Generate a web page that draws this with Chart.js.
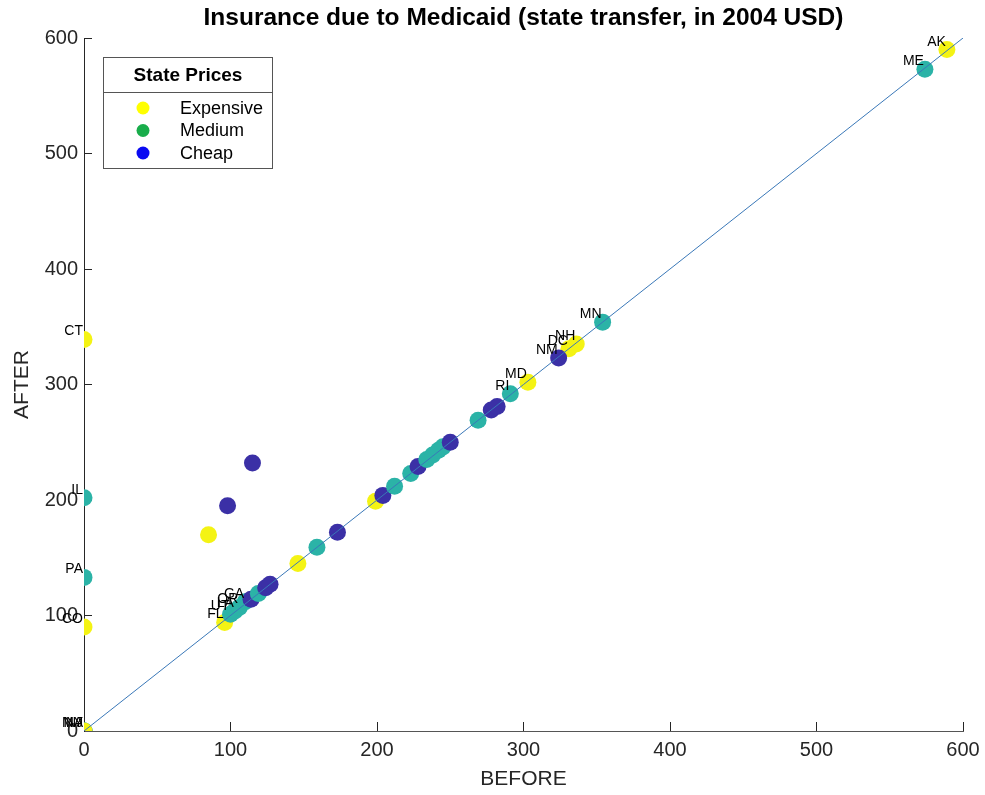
<!DOCTYPE html>
<html>
<head>
<meta charset="utf-8">
<script src="https://cdn.jsdelivr.net/npm/chart.js@4.4.0/dist/chart.umd.min.js"></script>
<style>
  html, body { margin: 0; padding: 0; background: #ffffff; }
  #wrap { width: 985px; height: 795px; }
</style>
</head>
<body>
<div id="wrap"><canvas id="chart" width="985" height="795"></canvas></div>
<script>
// State codes (blank where no label is printed), spending before/after, price tier
const states = ['', 'NJ', 'MA', 'NY', 'CT', 'IL', 'PA', 'CO', '', '', '',
  'FL', 'UT', 'LA', 'OR', 'GA', '', '', '', '', '', '', '', '', '', '', '', '',
  '', '', '', '', '', '', '', '', 'RI', 'MD', 'DC', 'NH', 'NM', 'MN', 'ME', 'AK'];
const before = [0, 0, 0, 0, 0, 0, 0, 0, 85, 98, 115,
  96, 100, 103, 106, 110, 114, 119, 124, 127, 146, 159, 173, 199, 204, 212, 223, 228,
  234, 238, 242, 245, 250, 269, 278, 282, 291, 303, 331, 336, 324, 354, 574, 589];
const after = [0, 0, 0, 0, 339, 202, 133, 90, 170, 195, 232,
  94, 101, 104, 107, 112, 114, 119, 124, 127, 145, 159, 172, 199, 204, 212, 223, 229,
  235, 239, 243, 246, 250, 269, 278, 281, 292, 302, 331, 335, 323, 354, 573, 590];
const tier = ['Cheap', 'Medium', 'Medium', 'Expensive', 'Expensive', 'Medium', 'Medium', 'Expensive', 'Expensive', 'Cheap', 'Cheap',
  'Expensive', 'Medium', 'Medium', 'Medium', 'Medium', 'Cheap', 'Medium', 'Cheap', 'Cheap', 'Expensive', 'Medium', 'Cheap', 'Expensive', 'Cheap', 'Medium', 'Medium', 'Cheap',
  'Medium', 'Medium', 'Medium', 'Medium', 'Cheap', 'Medium', 'Cheap', 'Cheap', 'Medium', 'Expensive', 'Expensive', 'Expensive', 'Cheap', 'Medium', 'Medium', 'Expensive'];

const priceGroups = ['Expensive', 'Medium', 'Cheap'];
const markerColors = { Expensive: '#f4f314', Medium: '#2bb3a7', Cheap: '#3b30a6' };
const legendColors = { Expensive: '#ffff00', Medium: '#19ad4b', Cheap: '#0a0af2' };

const axisTicks = [0, 100, 200, 300, 400, 500, 600];
const diagonal = [0, 600];

const chartTitle = 'Insurance due to Medicaid (state transfer, in 2004 USD)';
const legendTitle = 'State Prices';

const FONT = "'Liberation Sans', Arial, Helvetica, sans-serif";
Chart.defaults.font.family = FONT;

const points = before.map((b, i) => ({ x: b, y: after[i] }));

// state codes written just above-left of each marker
const stateLabels = {
  id: 'stateLabels',
  afterDatasetsDraw(chart) {
    const ctx = chart.ctx;
    const xs = chart.scales.x, ys = chart.scales.y;
    ctx.save();
    ctx.font = '14px ' + FONT;
    ctx.fillStyle = '#000000';
    ctx.textAlign = 'right';
    ctx.textBaseline = 'alphabetic';
    states.forEach((s, i) => {
      if (!s) return;
      const px = xs.getPixelForValue(before[i]);
      const py = ys.getPixelForValue(after[i]);
      ctx.fillText(s, px - 1, py - 4);
    });
    ctx.restore();
  }
};

// boxed legend with a title row
const priceLegend = {
  id: 'priceLegend',
  afterDraw(chart) {
    const ctx = chart.ctx;
    const left = 103.5, top = 57.5, w = 169, h = 111, sep = 92.5;
    ctx.save();
    ctx.fillStyle = '#ffffff';
    ctx.fillRect(left, top, w, h);
    ctx.strokeStyle = '#555555';
    ctx.lineWidth = 1;
    ctx.strokeRect(left, top, w, h);
    ctx.beginPath();
    ctx.moveTo(left, sep);
    ctx.lineTo(left + w, sep);
    ctx.stroke();
    ctx.fillStyle = '#000000';
    ctx.font = 'bold 19px ' + FONT;
    ctx.textAlign = 'center';
    ctx.textBaseline = 'middle';
    ctx.fillText(legendTitle, left + w / 2, 76);
    ctx.font = '18px ' + FONT;
    ctx.textAlign = 'left';
    priceGroups.forEach((g, k) => {
      const cy = 108 + k * 22.5;
      ctx.beginPath();
      ctx.fillStyle = legendColors[g];
      ctx.arc(143, cy, 6.5, 0, Math.PI * 2);
      ctx.fill();
      ctx.fillStyle = '#000000';
      ctx.fillText(g, 180, cy + 1);
    });
    ctx.restore();
  }
};

new Chart(document.getElementById('chart'), {
  type: 'scatter',
  data: {
    datasets: [
      {
        type: 'line',
        order: 0,
        data: diagonal.map(v => ({ x: v, y: v })),
        borderColor: '#3a78b8',
        borderWidth: 1,
        pointRadius: 0,
        fill: false
      },
      {
        order: 1,
        data: points,
        backgroundColor: tier.map(t => markerColors[t]),
        borderWidth: 0,
        pointRadius: 8.5,
        pointHoverRadius: 8.5
      }
    ]
  },
  options: {
    responsive: false,
    animation: false,
    devicePixelRatio: 1,
    layout: { padding: { left: 0, right: 22, top: 0, bottom: 0 } },
    plugins: {
      legend: { display: false },
      tooltip: { enabled: false },
      title: {
        display: true,
        text: chartTitle,
        fullSize: false,
        color: '#000000',
        font: { size: 24.5, weight: 'bold' },
        padding: { top: 4, bottom: 4.6 }
      }
    },
    scales: {
      x: {
        type: 'linear',
        min: 0, max: 600,
        afterBuildTicks(scale) { scale.ticks = axisTicks.map(v => ({ value: v })); },
        afterFit(scale) {
          scale.height = 64;
          scale.paddingLeft = 0;
          scale.paddingRight = 0;
        },
        grid: { drawOnChartArea: false, tickLength: -9, color: '#262626' },
        border: { color: '#555555', width: 1 },
        ticks: { color: '#262626', font: { size: 20 }, padding: 16, maxRotation: 0 },
        title: { display: true, text: 'BEFORE', color: '#262626', font: { size: 21 }, padding: { top: 0, bottom: 3 } }
      },
      y: {
        type: 'linear',
        min: 0, max: 600,
        afterBuildTicks(scale) { scale.ticks = axisTicks.map(v => ({ value: v })); },
        afterFit(scale) {
          scale.width = 84;
          scale.paddingTop = 0;
          scale.paddingBottom = 0;
        },
        grid: { drawOnChartArea: false, tickLength: -8, color: '#262626' },
        border: { color: '#262626', width: 1 },
        ticks: { color: '#262626', font: { size: 20 }, padding: 14 },
        title: { display: true, text: 'AFTER', color: '#262626', font: { size: 21 }, padding: { top: 10, bottom: 0 } }
      }
    }
  },
  plugins: [stateLabels, priceLegend]
});
</script>
</body>
</html>
